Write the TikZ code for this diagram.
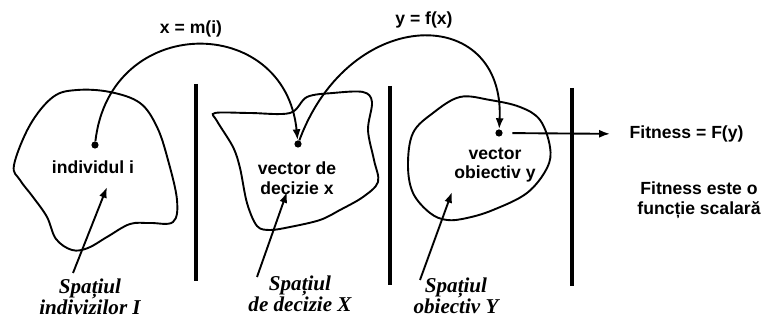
\documentclass[tikz,border=0pt]{standalone}
\usepackage{fontspec}
\setmainfont{Liberation Sans}
\newfontfamily\labelfont{Liberation Serif}
\usetikzlibrary{arrows.meta, positioning}
\tikzset{
    arrow/.style={-{Latex[length=2.7mm,width=2mm]}, line width=1.35pt},
    outline/.style={line width=1.35pt},
    divider/.style={line width=2.2pt},
    dot/.style={circle, fill, inner sep=0pt, minimum size=1.8mm},
    txt/.style={align=center, font=\bfseries\fontsize{12.5}{14}\selectfont, inner sep=1pt},
    spacelbl/.style={align=center, font=\labelfont\bfseries\itshape\fontsize{15}{15}\selectfont, inner sep=1pt}
}

\begin{document}
\begin{tikzpicture}[x=0.025cm, y=-0.025cm]
            \useasboundingbox (0,0) rectangle (765,326);

            % Space dividers
            \draw [divider] (196,84) -- (196,281);
            \draw [divider] (390,86) -- (390,285);
            \draw [divider] (572,88) -- (572,286);

            % Space outlines
            \draw [outline] plot [smooth cycle, tension=0.6] coordinates {
                (14,165) (30,125) (53,97) (77,90) (110,92) (140,103) (157,127)
                (168,160) (177,200) (173,222) (150,223) (130,224) (107,237)
                (88,248) (72,250) (56,239) (47,217) (33,197) (20,180)};
            \draw [outline] plot [smooth cycle, tension=0.55] coordinates {
                (215,113) (250,113) (290,113) (307,97) (333,93) (363,92) (372,102)
                (368,130) (374,160) (378,182) (363,197) (340,210) (320,220)
                (290,227) (270,230) (257,226) (247,203) (240,168) (233,147)
                (217,121)};
            \draw [outline] plot [smooth cycle, tension=0.6] coordinates {
                (433,113) (460,97) (490,100) (520,107) (540,120) (550,147)
                (547,168) (527,193) (493,210) (467,218) (447,220) (430,213)
                (413,193) (408,165) (413,133)};

            % Points in each space
            \node (dI) [dot] at (95,145) {};
            \node (dX) [dot] at (298,144) {};
            \node (dY) [dot] at (499,133) {};

            \node (indI) [txt] at (93,167) {individul i};
            \node (vecX) [txt] at (297,178) {vector de\\decizie x};
            \node (vecY) [txt] at (495,165) {vector\\obiectiv y};

            % Mappings
            \node (lblXm) [txt] at (191,29) {x = m(i)};
            \node (lblYf) [txt] at (424,20) {y = f(x)};
            \draw [arrow] (dI) .. controls (110,13) and (285,13) .. (dX);
            \draw [arrow] (dX) .. controls (350,4) and (505,4) .. (dY);

            % Fitness
            \node (fitF) [txt, anchor=west] at (628,134) {Fitness = F(y)};
            \node (fitS) [txt] at (699,200) {Fitness este o\\funcție scalară};
            \draw [arrow, shorten <=2.4mm, shorten >=4.5mm] (dY) -- (fitF.west);

            % Space names
            \node (spI) [spacelbl] at (90,297) {Spațiul\\indivizilor I};
            \node (spX) [spacelbl] at (300,294) {Spațiul\\de decizie X};
            \node (spY) [spacelbl] at (456,296) {Spațiul\\obiectiv Y};
            \coordinate (tI) at (73,273);
            \coordinate (hI) at (107,187);
            \coordinate (tX) at (257,277);
            \coordinate (hX) at (287,192);
            \coordinate (tY) at (420,280);
            \coordinate (hY) at (452,192);
            \draw [arrow] (tI) -- (hI);
            \draw [arrow] (tX) -- (hX);
            \draw [arrow] (tY) -- (hY);
\end{tikzpicture}
\end{document}
